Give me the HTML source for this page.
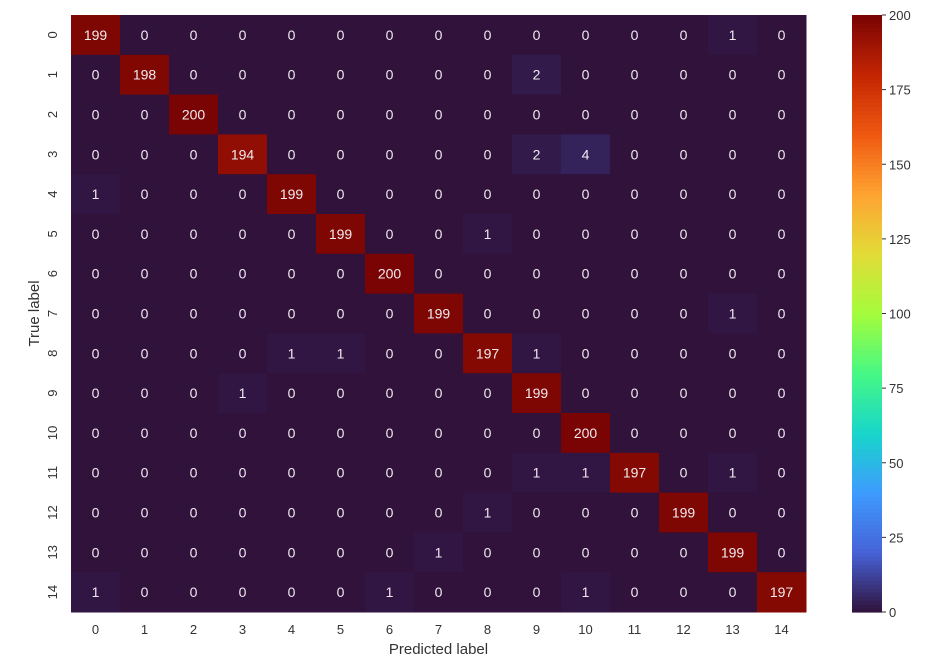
<!DOCTYPE html>
<html><head><meta charset="utf-8"><style>
body{margin:0;background:#fff;}
svg{display:block;font-family:"Liberation Sans","DejaVu Sans",sans-serif;}
</style></head><body>
<svg id="chart" width="926" height="658"></svg>
<script>
const labels=["0","1","2","3","4","5","6","7","8","9","10","11","12","13","14"];
const matrix=[
[199,0,0,0,0,0,0,0,0,0,0,0,0,1,0],
[0,198,0,0,0,0,0,0,0,2,0,0,0,0,0],
[0,0,200,0,0,0,0,0,0,0,0,0,0,0,0],
[0,0,0,194,0,0,0,0,0,2,4,0,0,0,0],
[1,0,0,0,199,0,0,0,0,0,0,0,0,0,0],
[0,0,0,0,0,199,0,0,1,0,0,0,0,0,0],
[0,0,0,0,0,0,200,0,0,0,0,0,0,0,0],
[0,0,0,0,0,0,0,199,0,0,0,0,0,1,0],
[0,0,0,0,1,1,0,0,197,1,0,0,0,0,0],
[0,0,0,1,0,0,0,0,0,199,0,0,0,0,0],
[0,0,0,0,0,0,0,0,0,0,200,0,0,0,0],
[0,0,0,0,0,0,0,0,0,1,1,197,0,1,0],
[0,0,0,0,0,0,0,0,1,0,0,0,199,0,0],
[0,0,0,0,0,0,0,1,0,0,0,0,0,199,0],
[1,0,0,0,0,0,1,0,0,0,1,0,0,0,197]];
const cbTicks=[0,25,50,75,100,125,150,175,200];
const vmin=0,vmax=200;
const L=71,T=15,R=806,B=612,CL=852,CR=882;
const STOPS=[[48,18,59],[70,98,215],[62,155,254],[24,214,203],[70,248,132],[164,252,60],[226,220,56],[254,163,49],[239,89,17],[196,37,3],[122,4,3]];
const NS="http://www.w3.org/2000/svg";
const svg=document.getElementById('chart');
function el(t,a,txt){const e=document.createElementNS(NS,t);for(const k in a)e.setAttribute(k,a[k]);if(txt!==undefined)e.textContent=txt;svg.appendChild(e);return e;}
function turbo(x){x=Math.max(0,Math.min(1,x));const p=x*10,i=Math.min(9,Math.floor(p)),f=p-i;
const a=STOPS[i],b=STOPS[i+1];const c=k=>Math.round(a[k]+(b[k]-a[k])*f);return `rgb(${c(0)},${c(1)},${c(2)})`;}
const n=labels.length,cw=(R-L)/n,ch=(B-T)/n;
const xs=i=>L+i*cw, ys=j=>T+j*ch;
matrix.forEach((row,j)=>row.forEach((v,i)=>{
 const r=el('rect',{x:xs(i),y:ys(j),width:cw+0.5,height:ch+0.5,fill:turbo((v-vmin)/(vmax-vmin))});
 
 
 const t=el('text',{x:xs(i)+cw/2,y:ys(j)+ch/2+5,'text-anchor':'middle','font-size':14,fill:'#f0eaf0'},v);
 
 
}));
labels.forEach((lb,i)=>{
 const t=el('text',{x:xs(i)+cw/2,y:B+22,'text-anchor':'middle','font-size':13,fill:'#333'},lb);
 
 
 const cy=ys(i)+ch/2;
 const u=el('text',{x:0,y:0,'text-anchor':'middle','font-size':13,fill:'#333',transform:`translate(${L-14},${cy}) rotate(-90)`},lb);
 
 
});
const xt=el('text',{x:(L+R)/2,y:B+42,'text-anchor':'middle','font-size':15,fill:'#333'},'Predicted label');

const yt=el('text',{x:0,y:0,'text-anchor':'middle','font-size':15,fill:'#333',transform:`translate(39,${(T+B)/2}) rotate(-90)`},'True label');

const steps=150;
for(let k=0;k<steps;k++){
 const y1=B-(B-T)*(k+1)/steps;
 const r=el('rect',{x:CL,y:y1,width:CR-CL,height:(B-T)/steps+0.6,fill:turbo((k+0.5)/steps)});
 
 
}
cbTicks.forEach(v=>{
 const y=B-(B-T)*(v-vmin)/(vmax-vmin);
 const l=el('line',{x1:CR,x2:CR+4,y1:y,y2:y,stroke:'#333','stroke-width':1});
 
 const t=el('text',{x:CR+7,y:y+5,'font-size':13,fill:'#333'},v);
 
});
</script>
</body></html>
